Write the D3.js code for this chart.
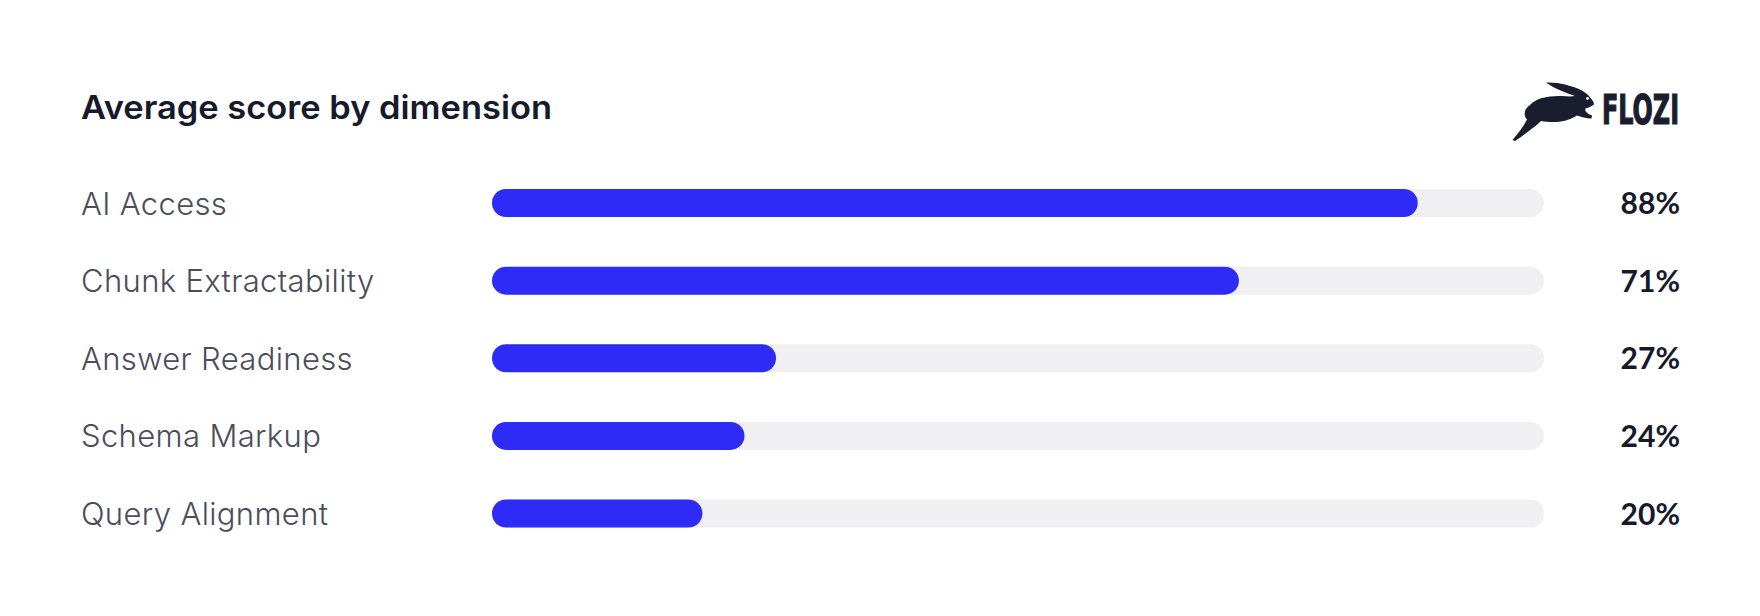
<!DOCTYPE html>
<html>
<head>
<meta charset="utf-8">
<script src="https://cdn.jsdelivr.net/npm/d3@7"></script>
<style>
  html, body { margin: 0; padding: 0; background: #ffffff; }
  svg { display: block; }
</style>
</head>
<body>
<svg id="chart" width="1760" height="616"></svg>
<script>
// ---- Data ----
const categories = ["AI Access", "Chunk Extractability", "Answer Readiness", "Schema Markup", "Query Alignment"];
const scores = [88, 71, 27, 24, 20];
const valueLabels = ["88%", "71%", "27%", "24%", "20%"];
const chartTitle = "Average score by dimension";
const brandName = "FLOZI";

// ---- Layout ----
const W = 1760, H = 616;
const svg = d3.select("#chart");
svg.append("rect").attr("width", W).attr("height", H).attr("fill", "#ffffff");

const x = d3.scaleLinear().domain([0, 100]).range([492, 1544]);
const y = d3.scalePoint().domain(categories).range([203, 513.5]);
const barH = 28;

const rows = categories.map((c, i) => ({ cat: c, v: scores[i], label: valueLabels[i] }));

// Title
svg.append("text")
  .attr("x", 81).attr("y", 119)
  .attr("font-family", "Inter, 'Open Sans', sans-serif")
  .attr("font-weight", 600)
  .attr("font-size", 32.5)
  .attr("fill", "#161a2b")
  .attr("textLength", 471)
  .attr("lengthAdjust", "spacingAndGlyphs")
  .text(chartTitle);

// Tracks
svg.append("g").selectAll("rect").data(rows).join("rect")
  .attr("x", x(0))
  .attr("y", d => y(d.cat) - barH / 2)
  .attr("width", x(100) - x(0))
  .attr("height", barH)
  .attr("rx", barH / 2)
  .attr("fill", "#f0f0f2");

// Bars
svg.append("g").selectAll("rect").data(rows).join("rect")
  .attr("x", x(0))
  .attr("y", d => y(d.cat) - barH / 2)
  .attr("width", d => x(d.v) - x(0))
  .attr("height", barH)
  .attr("rx", barH / 2)
  .attr("fill", "#2d2bf5");

// Category labels
svg.append("g").selectAll("text").data(rows).join("text")
  .attr("x", 81)
  .attr("y", d => y(d.cat) + 11.5)
  .attr("font-family", "Inter, 'Open Sans', sans-serif")
  .attr("font-weight", 300)
  .attr("font-size", 31)
  .attr("letter-spacing", 0.35)
  .attr("fill", "#4b4d5c")
  .text(d => d.cat);

// Value labels
svg.append("g").selectAll("text").data(rows).join("text")
  .attr("x", 1680)
  .attr("y", d => y(d.cat) + 11)
  .attr("text-anchor", "end")
  .attr("font-family", "Lato, Inter, sans-serif")
  .attr("font-weight", 700)
  .attr("font-size", 30)
  .attr("fill", "#161a2b")
  .text(d => d.label);

// Logo
const logo = svg.append("g").attr("transform", "translate(1500,70)");
logo.append("path")
  .attr("fill", "#1a1d2e")
  .attr("d", "M 30 35 C 36 28, 49 25.5, 62 26 C 68 26.5, 72 26.5, 75 26 C 66 23, 55 19, 46 12.5 C 58 12, 72 15.5, 82 20.5 C 86.5 23, 90.5 27, 93.5 32 L 94 34.5 C 91.5 36.5, 88.5 37.5, 85.5 38.5 C 84.5 41, 86.5 43.5, 92 45.5 L 91.5 48.5 C 86 48.5, 81 47, 77 45.5 C 73 48, 68 50.5, 61 51.5 C 54 52.5, 47 52, 41 51 C 35 57, 25 64, 15 71 L 12.5 70 C 19 62, 24 55.5, 27 49.5 C 23.5 46, 23.5 39, 30 35 Z");
logo.append("circle").attr("cx", 87.5).attr("cy", 28.5).attr("r", 1.4).attr("fill", "#ffffff");

svg.append("text")
  .attr("x", 1602).attr("y", 123.5)
  .attr("font-family", "'Liberation Sans Narrow', 'DejaVu Sans Condensed', 'Liberation Sans', sans-serif")
  .attr("font-weight", 700)
  .attr("font-size", 41)
  .attr("fill", "#1a1d2e")
  .attr("stroke", "#1a1d2e")
  .attr("stroke-width", 1.2)
  .attr("textLength", 77)
  .attr("lengthAdjust", "spacingAndGlyphs")
  .text(brandName);
</script>
</body>
</html>
